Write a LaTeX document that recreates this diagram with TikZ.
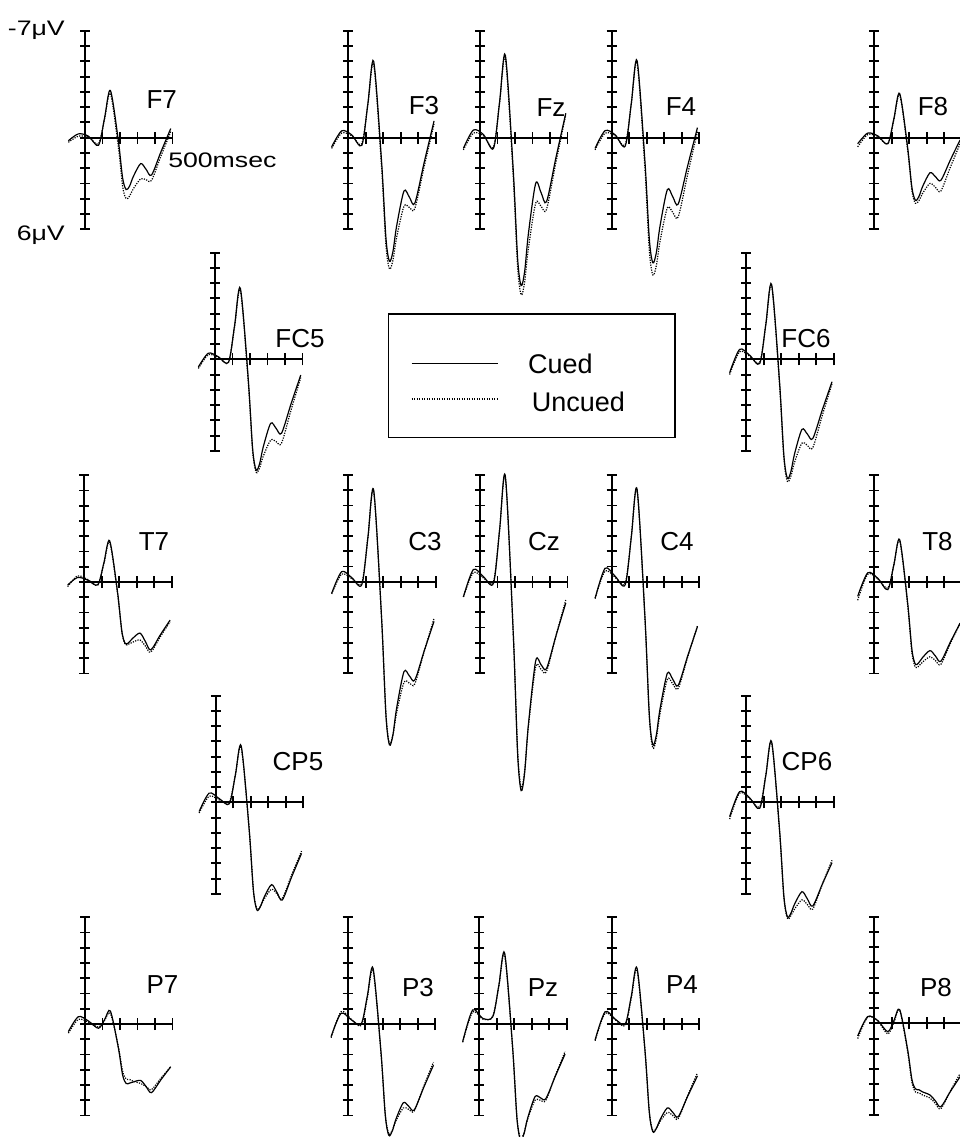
\documentclass[tikz,border=0pt]{standalone}
\usepackage{fontspec}
\setmainfont{Liberation Sans}

% one trace: style, start, pre bump, dip, peak, trough, hump, dip, end
\newcommand{\erptrace}[9]{%
  \draw[#1] plot[smooth] coordinates {(-95,#2) (-38,#3) (20,{0.4*(#3)}) (77,#4)
    (112,{0.5*(#4)+0.5*(#5)}) (145,#5) (190,{0.5*(#5)+0.5*(#6)})
    (215,{0.117*(#5)+0.883*(#6)}) (235,#6) (255,{0.863*(#6)+0.137*(#7)})
    (276,{0.5*(#6)+0.5*(#7)}) (318,#7) (349,{0.5*(#7)+0.5*(#8)}) (380,#8)
    (434,{0.5*(#8)+0.5*(#9)}) (490,#9)};
}
% axes of one panel
\newcommand{\erpaxes}{%
  \draw[erp axis] (0,-7) -- (0,6);
  \foreach \v in {-7,...,6} \draw[erp axis] (0,\v) ++(-5pt,0pt) -- ++(10pt,0pt);
  \draw[erp axis] (0,0) -- (500,0);
  \foreach \t in {100,200,...,500} \draw[erp axis] (\t,0) ++(0pt,-6pt) -- ++(0pt,12pt);
}

\begin{document}
\begin{tikzpicture}[
    x=1pt, y=-1pt,
    erp panel/.style 2 args={shift={(#1,#2)}, x=0.175pt, y=-15.25pt},
    erp axis/.style={line width=1.9pt},
    cued/.style={line width=1.2pt},
    uncued/.style={line width=1.2pt, dash pattern=on 1.2pt off 1.3pt},
    chan label/.style={font=\fontsize{26}{26}\selectfont, inner sep=0pt},
    scale note/.style={font=\fontsize{21}{21}\selectfont, inner sep=0pt, xscale=1.27},
    legend text/.style={font=\fontsize{27}{27}\selectfont, inner sep=0pt, anchor=base west}
  ]
  \clip (0,0) rectangle (960,1137);

  % frontal row
  \begin{scope}[erp panel={85}{137.7}]
    \erpaxes
    \erptrace{uncued}{0.3}{-0.1}{0.4}{-2.9}{4.0}{2.7}{2.8}{-0.4}
    \erptrace{cued}{0.2}{-0.25}{0.5}{-3.1}{3.4}{1.7}{2.45}{-0.6}
  \end{scope}
  \node[chan label] (F7) at (161.7,100) {F7};
  \node[scale note, anchor=base east] (top) at (65,36) {-7μV};
  \node[scale note, anchor=base east] (bottom) at (65,240) {6μV};
  \node[scale note, anchor=base west] (time) at (168,167) {500msec};

  \begin{scope}[erp panel={348.3}{137.7}]
    \erpaxes
    \erptrace{uncued}{0.7}{-0.3}{0.4}{-4.8}{8.6}{4.5}{4.65}{-0.9}
    \erptrace{cued}{0.6}{-0.45}{0.5}{-5.0}{8.1}{3.5}{4.3}{-1.1}
  \end{scope}
  \node[chan label] (F3) at (424,106) {F3};

  \begin{scope}[erp panel={480}{137.7}]
    \erpaxes
    \erptrace{uncued}{0.8}{-0.3}{0.6}{-5.2}{10.3}{4.3}{4.7}{-1.5}
    \erptrace{cued}{0.7}{-0.5}{0.7}{-5.4}{9.7}{3.0}{4.2}{-1.6}
  \end{scope}
  \node[chan label] (Fz) at (551,108) {Fz};

  \begin{scope}[erp panel={611.7}{137.7}]
    \erpaxes
    \erptrace{uncued}{0.8}{-0.3}{0.45}{-4.9}{9.0}{4.6}{5.2}{-0.4}
    \erptrace{cued}{0.7}{-0.46}{0.55}{-5.05}{8.2}{3.4}{4.35}{-0.66}
  \end{scope}
  \node[chan label] (F4) at (681,107) {F4};

  \begin{scope}[erp panel={874.3}{137.7}]
    \erpaxes
    \erptrace{uncued}{0.6}{-0.2}{0.4}{-2.8}{4.3}{3.0}{3.5}{0.4}
    \erptrace{cued}{0.4}{-0.3}{0.4}{-2.9}{4.1}{2.3}{2.8}{0.15}
  \end{scope}
  \node[chan label] (F8) at (933,107) {F8};

  % fronto-central row
  \begin{scope}[erp panel={215}{359.3}]
    \erpaxes
    \erptrace{uncued}{0.6}{-0.3}{0.2}{-4.5}{7.4}{5.3}{5.5}{1.2}
    \erptrace{cued}{0.5}{-0.4}{0.2}{-4.65}{7.26}{4.2}{4.85}{1.03}
  \end{scope}
  \node[chan label] (FC5) at (300,339) {FC5};

  \begin{scope}[erp panel={746.25}{359.3}]
    \erpaxes
    \erptrace{uncued}{1.0}{-0.5}{0.2}{-4.8}{8.0}{5.5}{5.8}{1.6}
    \erptrace{cued}{0.88}{-0.65}{0.27}{-4.9}{7.8}{4.6}{5.2}{1.47}
  \end{scope}
  \node[chan label] (FC6) at (806,339) {FC6};

  % central row
  \begin{scope}[erp panel={84.3}{582}]
    \erpaxes
    \erptrace{uncued}{0.3}{-0.4}{0.2}{-2.6}{4.1}{3.8}{4.6}{2.6}
    \erptrace{cued}{0.2}{-0.3}{0.18}{-2.7}{4.05}{3.35}{4.45}{2.5}
  \end{scope}
  \node[chan label] (T7) at (154,542) {T7};

  \begin{scope}[erp panel={348.3}{581.7}]
    \erpaxes
    \erptrace{uncued}{0.8}{-0.5}{0.1}{-5.9}{10.6}{6.6}{6.7}{2.4}
    \erptrace{cued}{0.76}{-0.66}{0.2}{-6.0}{10.7}{5.9}{6.45}{2.6}
  \end{scope}
  \node[chan label] (C3) at (425,542) {C3};

  \begin{scope}[erp panel={480}{581.7}]
    \erpaxes
    \erptrace{uncued}{1.0}{-0.6}{0.0}{-6.8}{13.5}{5.6}{5.9}{1.2}
    \erptrace{cued}{1.0}{-0.8}{0.1}{-6.9}{13.7}{5.2}{5.7}{1.4}
  \end{scope}
  \node[chan label] (Cz) at (544,542) {Cz};

  \begin{scope}[erp panel={611.7}{581.7}]
    \erpaxes
    \erptrace{uncued}{1.1}{-0.7}{0.1}{-6.0}{10.9}{6.4}{7.0}{2.9}
    \erptrace{cued}{1.1}{-0.88}{0.2}{-6.05}{10.7}{6.0}{6.8}{2.95}
  \end{scope}
  \node[chan label] (C4) at (677,542) {C4};

  \begin{scope}[erp panel={874.3}{582}]
    \erpaxes
    \erptrace{uncued}{1.2}{-0.5}{0.4}{-2.7}{5.6}{4.9}{5.4}{2.7}
    \erptrace{cued}{0.94}{-0.6}{0.5}{-2.77}{5.4}{4.5}{5.2}{2.7}
  \end{scope}
  \node[chan label] (T8) at (937.5,542) {T8};

  % centro-parietal row
  \begin{scope}[erp panel={215.8}{802.3}]
    \erpaxes
    \erptrace{uncued}{0.7}{-0.4}{0.0}{-3.6}{7.0}{5.7}{6.3}{3.2}
    \erptrace{cued}{0.6}{-0.6}{0.1}{-3.7}{7.06}{5.4}{6.4}{3.35}
  \end{scope}
  \node[chan label] (CP5) at (298,762) {CP5};

  \begin{scope}[erp panel={746.25}{802.3}]
    \erpaxes
    \erptrace{uncued}{1.1}{-0.6}{0.3}{-3.9}{7.6}{6.4}{7.0}{3.8}
    \erptrace{cued}{0.94}{-0.7}{0.39}{-3.97}{7.5}{5.86}{6.8}{3.96}
  \end{scope}
  \node[chan label] (CP6) at (807,762) {CP6};

  % parietal row
  \begin{scope}[erp panel={85}{1024}]
    \erpaxes
    \erptrace{uncued}{0.6}{-0.3}{0.2}{-0.7}{3.6}{3.9}{4.3}{2.8}
    \erptrace{cued}{0.5}{-0.48}{0.28}{-0.85}{3.9}{3.7}{4.5}{2.8}
  \end{scope}
  \node[chan label] (P7) at (162.5,985) {P7};

  \begin{scope}[erp panel={347.7}{1024}]
    \erpaxes
    \erptrace{uncued}{0.9}{-0.8}{0.1}{-3.5}{7.2}{5.5}{5.7}{2.5}
    \erptrace{cued}{0.83}{-0.7}{0.0}{-3.65}{7.3}{5.16}{5.64}{2.7}
  \end{scope}
  \node[chan label] (P3) at (418,988) {P3};

  \begin{scope}[erp panel={479.3}{1024}]
    \erpaxes
    \erptrace{uncued}{1.2}{-0.8}{-0.5}{-4.5}{7.5}{5.0}{5.0}{1.8}
    \erptrace{cued}{1.16}{-0.92}{-0.48}{-4.64}{7.6}{4.77}{4.9}{1.97}
  \end{scope}
  \node[chan label] (Pz) at (543,988) {Pz};

  \begin{scope}[erp panel={611.7}{1024}]
    \erpaxes
    \erptrace{uncued}{1.1}{-0.7}{0.1}{-3.5}{7.0}{5.8}{6.2}{3.2}
    \erptrace{cued}{1.05}{-0.8}{0.0}{-3.65}{7.06}{5.5}{6.08}{3.4}
  \end{scope}
  \node[chan label] (P4) at (682,985) {P4};

  \begin{scope}[erp panel={874.3}{1023.3}]
    \erpaxes
    \erptrace{uncued}{1.0}{-0.4}{0.7}{-0.85}{4.5}{4.9}{5.6}{3.3}
    \erptrace{cued}{0.83}{-0.44}{0.55}{-0.9}{4.3}{4.7}{5.47}{3.5}
  \end{scope}
  \node[chan label] (P8) at (936,988) {P8};

  % legend
  \draw[line width=1.2pt] (388.3,314) rectangle (675,437.3);
  \coordinate (cuedA) at (411.7,363.3);
  \coordinate (cuedB) at (498.3,363.3);
  \coordinate (uncuedA) at (411.7,399);
  \coordinate (uncuedB) at (498.3,399);
  \draw[cued] (cuedA) -- (cuedB);
  \draw[uncued] (uncuedA) -- (uncuedB);
  \node[legend text] (cuedtxt) at (528,373.3) {Cued};
  \node[legend text] (uncuedtxt) at (531.7,411.7) {Uncued};
\end{tikzpicture}
\end{document}
